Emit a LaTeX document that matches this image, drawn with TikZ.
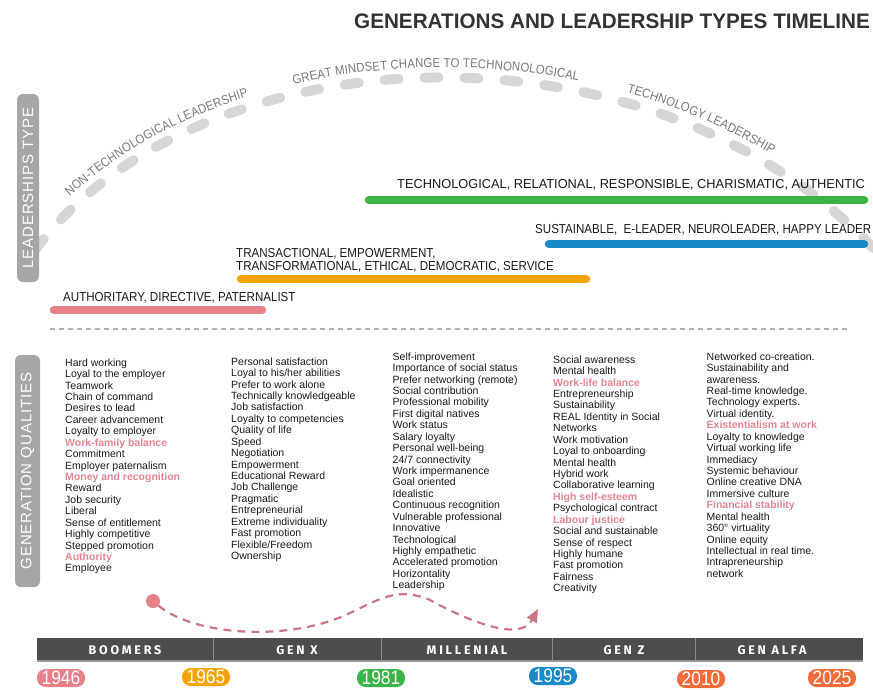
\documentclass[tikz,border=0pt]{standalone}
\usepackage{fontspec}
\setmainfont{Liberation Sans}
\newfontfamily\condfont[FakeStretch=0.89]{Liberation Sans}
\newfontfamily\widecondfont[FakeStretch=0.985]{Liberation Sans}
\newfontfamily\genfont[LetterSpace=22]{Fira Sans}
\newfontfamily\sidefont[LetterSpace=6]{Liberation Sans}
\usetikzlibrary{decorations.text, arrows.meta}

\definecolor{pinkc}{RGB}{232,128,138}
\definecolor{orangec}{RGB}{245,163,0}
\definecolor{greenc}{RGB}{59,181,74}
\definecolor{bluec}{RGB}{26,138,198}
\definecolor{redorc}{RGB}{242,107,58}
\definecolor{barc}{RGB}{77,77,77}
\definecolor{sidegray}{RGB}{166,166,166}
\definecolor{arcgray}{RGB}{214,214,214}
\definecolor{arctext}{RGB}{120,120,120}
\definecolor{qualpink}{RGB}{226,132,148}
\definecolor{titlegray}{RGB}{51,51,51}

\newcommand{\hilite}[1]{{\color{qualpink}\bfseries #1}}
\newcommand{\arcfont}{\color{arctext}\condfont\fontsize{12.8}{13}\selectfont}

\tikzset{
	bar/.style={line width=8.5pt, line cap=round},
	barlabel/.style={anchor=base west, inner sep=0pt, align=left, text=black!90, font=\condfont\fontsize{13}{13.3}\selectfont},
	quality/.style={anchor=north west, inner sep=0pt, align=left, text=black!90, font=\fontsize{10.5}{11.43}\selectfont},
	sidelabel/.style={rotate=90, fill=sidegray, text=white, rounded corners=6pt, inner sep=0pt, font=\sidefont\fontsize{15}{15}\selectfont},
	genname/.style={text=white, inner sep=0pt, font=\genfont\bfseries\fontsize{12.5}{12.5}\selectfont},
	yearbadge/.style={text=white, rounded corners=8.5pt, minimum width=48pt, minimum height=18pt, inner sep=0pt, font=\condfont\fontsize{19.5}{19.5}\selectfont},
	journey/.style={qualpink!90!black, line width=2.2pt, dash pattern=on 8pt off 6pt, -{Triangle[length=13pt, width=11pt]}}
}

\begin{document}
\begin{tikzpicture}[x=1pt, y=-1pt]
	\useasboundingbox (0,0) rectangle (873,689);

	\node[anchor=base east, inner sep=0pt, text=titlegray, font=\widecondfont\bfseries\fontsize{21}{21}\selectfont] (title) at (870,28) {GENERATIONS AND LEADERSHIP TYPES TIMELINE};

	% the big dashed arc and the words along it
	\coordinate (arcA) at (35,250);
	\coordinate (arcB) at (200,30);
	\coordinate (arcC) at (650,10);
	\coordinate (arcD) at (875,250);
	\draw[arcgray, line width=10pt, line cap=round, dash pattern=on 14pt off 26pt] (arcA) .. controls (arcB) and (arcC) .. (arcD);
	\path[decorate, decoration={text along path, raise=10pt, text align={left indent=62pt}, text={|\arcfont|NON-TECHNOLOGICAL LEADERSHIP}}] (arcA) .. controls (arcB) and (arcC) .. (arcD);
	\path[decorate, decoration={text along path, raise=10pt, text align={left indent=310pt}, text={|\arcfont|GREAT MINDSET CHANGE TO TECHNONOLOGICAL}}] (arcA) .. controls (arcB) and (arcC) .. (arcD);
	\path[decorate, decoration={text along path, raise=10pt, text align={left indent=642pt}, text={|\arcfont|TECHNOLOGY LEADERSHIP}}] (arcA) .. controls (arcB) and (arcC) .. (arcD);

	\node[sidelabel, minimum width=188pt, minimum height=22pt] (leadtype) at (28,188) {LEADERSHIPS TYPE};
	\node[sidelabel, minimum width=232pt, minimum height=25pt] (genqual) at (27.5,471) {GENERATION QUALITIES};

	% leadership bars
	\foreach \c/\xa/\xb/\y in {greenc/369/864/200, bluec/549/864/244, orangec/241/586/279, pinkc/54/262/310}
		\draw[bar, \c] (\xa,\y) -- (\xb,\y);
	\node[barlabel, font=\widecondfont\fontsize{13}{13}\selectfont] (ltech) at (397,188) {TECHNOLOGICAL, RELATIONAL, RESPONSIBLE, CHARISMATIC, AUTHENTIC};
	\node[barlabel] (lsust) at (535,233) {SUSTAINABLE,\ \ E-LEADER, NEUROLEADER, HAPPY LEADER};
	\node[barlabel] (ltrans) at (236,270.5) {TRANSACTIONAL, EMPOWERMENT,\\TRANSFORMATIONAL, ETHICAL, DEMOCRATIC, SERVICE};
	\node[barlabel] (lauth) at (63,301) {AUTHORITARY, DIRECTIVE, PATERNALIST};

	\draw[black!30, line width=1.2pt, dash pattern=on 5pt off 4pt] (50,329) -- (850,329);

	% qualities of each generation
	\node[quality] (qboomers) at (65,358.4) {Hard working\\Loyal to the employer\\Teamwork\\Chain of command\\Desires to lead\\Career advancement\\Loyalty to employer\\\hilite{Work-family balance}\\Commitment\\Employer paternalism\\\hilite{Money and recognition}\\Reward\\Job security\\Liberal\\Sense of entitlement\\Highly competitive\\Stepped promotion\\\hilite{Authority}\\Employee};
	\node[quality] (qgenx) at (231,357.4) {Personal satisfaction\\Loyal to his/her abilities\\Prefer to work alone\\Technically knowledgeable\\Job satisfaction\\Loyalty to competencies\\Quality of life\\Speed\\Negotiation\\Empowerment\\Educational Reward\\Job Challenge\\Pragmatic\\Entrepreneurial\\Extreme individuality\\Fast promotion\\Flexible/Freedom\\Ownership};
	\node[quality] (qmillenial) at (392.5,352.4) {Self-improvement\\Importance of social status\\Prefer networking (remote)\\Social contribution\\Professional mobility\\First digital natives\\Work status\\Salary loyalty\\Personal well-being\\24/7 connectivity\\Work impermanence\\Goal oriented\\Idealistic\\Continuous recognition\\Vulnerable professional\\Innovative\\Technological\\Highly empathetic\\Accelerated promotion\\Horizontality\\Leadership};
	\node[quality] (qgenz) at (553,355.4) {Social awareness\\Mental health\\\hilite{Work-life balance}\\Entrepreneurship\\Sustainability\\REAL Identity in Social\\Networks\\Work motivation\\Loyal to onboarding\\Mental health\\Hybrid work\\Collaborative learning\\\hilite{High self-esteem}\\Psychological contract\\\hilite{Labour justice}\\Social and sustainable\\Sense of respect\\Highly humane\\Fast promotion\\Fairness\\Creativity};
	\node[quality] (qalfa) at (706.5,352.4) {Networked co-creation.\\Sustainability and\\awareness.\\Real-time knowledge.\\Technology experts.\\Virtual identity.\\\hilite{Existentialism at work}\\Loyalty to knowledge\\Virtual working life\\Immediacy\\Systemic behaviour\\Online creative DNA\\Immersive culture\\\hilite{Financial stability}\\Mental health\\360° virtuality\\Online equity\\Intellectual in real time.\\Intrapreneurship\\network};

	% wavy arrow
	\node[circle, fill=pinkc, minimum size=14pt, inner sep=0pt] (startdot) at (153,601) {};
	\coordinate (journeyend) at (538,609);
	\draw[journey] (startdot) .. controls (195,636) and (290,642) .. (350,613) .. controls (383,597) and (398,588) .. (428,599) .. controls (470,622) and (520,642) .. (journeyend);

	% generations band
	\fill[barc] (37,638) rectangle (863,662);
	\draw[black!40, line width=1.5pt] (37,661.2) -- (863,661.2);
	\foreach \x in {213,381,552,695}
		\draw[black!45] (\x,638) -- (\x,661);
	\foreach \n/\x/\t in {boomers/125/BOOMERS, genx/297/GEN X, millenial/467/MILLENIAL, genz/624/GEN Z, genalfa/772/GEN ALFA}
		\node[genname] (\n) at (\x,650) {\t};

	\foreach \x/\y/\c/\t in {61/678/pinkc/1946, 206/677/orangec/1965, 381/678/greenc/1981, 553/676/bluec/1995, 701/679/redorc/2010, 832/678/redorc/2025}
		\node[yearbadge, fill=\c] (y\t) at (\x,\y) {\t};
\end{tikzpicture}
\end{document}
